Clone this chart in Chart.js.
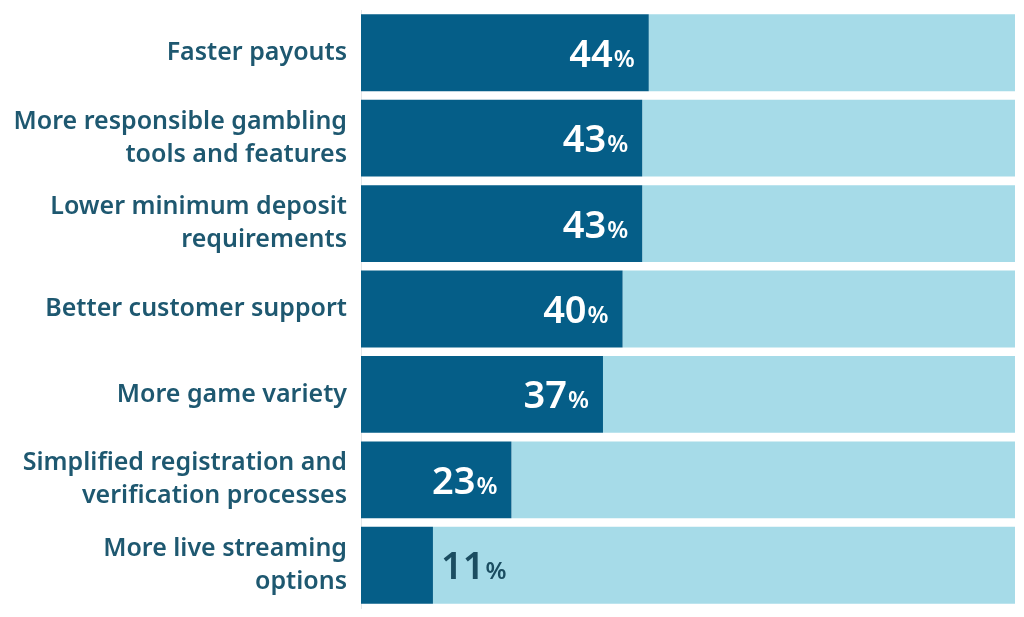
<!DOCTYPE html>
<html>
<head>
<meta charset="utf-8">
<script src="https://cdn.jsdelivr.net/npm/chart.js@4"></script>
<style>
  html, body { margin: 0; padding: 0; background: #fff; }
</style>
</head>
<body>
<canvas id="chart" width="1024" height="617"></canvas>
<script>
const categories = [
  ['Faster payouts'],
  ['More responsible gambling', 'tools and features'],
  ['Lower minimum deposit', 'requirements'],
  ['Better customer support'],
  ['More game variety'],
  ['Simplified registration and', 'verification processes'],
  ['More live streaming', 'options']
];
const values = [44, 43, 43, 40, 37, 23, 11];
const rest = values.map(v => 100 - v);

const darkBlue = '#055e88';
const lightBlue = '#a6dbe8';
const labelColor = '#1e5870';
const fontFamily = "'Noto Sans', 'Open Sans', sans-serif";

// value labels: big number + smaller %
const valueLabels = {
  id: 'valueLabels',
  afterDatasetsDraw(chart) {
    const ctx = chart.ctx;
    const meta = chart.getDatasetMeta(0);
    meta.data.forEach((bar, i) => {
      const num = String(values[i]);
      ctx.save();
      ctx.textBaseline = 'alphabetic';
      ctx.font = `600 38px ${fontFamily}`;
      const wNum = ctx.measureText(num).width;
      ctx.font = `600 24px ${fontFamily}`;
      const wPct = ctx.measureText('%').width;
      const total = wNum + wPct + 1;
      const left = bar.base;
      const right = bar.x;
      let x, color;
      if (right - left > total + 24) {
        x = right - 14 - total;
        color = '#ffffff';
      } else {
        x = right + 8;
        color = '#1b4d61';
      }
      const y = bar.y + 14;
      ctx.fillStyle = color;
      ctx.font = `600 38px ${fontFamily}`;
      ctx.fillText(num, x, y);
      ctx.font = `600 24px ${fontFamily}`;
      ctx.fillText('%', x + wNum + 1, y);
      ctx.restore();
    });
  }
};

new Chart(document.getElementById('chart'), {
  type: 'bar',
  data: {
    labels: categories,
    datasets: [
      { data: values, backgroundColor: darkBlue, borderWidth: 0, barPercentage: 0.9, categoryPercentage: 1 },
      { data: rest, backgroundColor: lightBlue, borderWidth: 0, barPercentage: 0.9, categoryPercentage: 1 }
    ]
  },
  options: {
    indexAxis: 'y',
    responsive: false,
    animation: false,
    layout: { padding: { top: 10, bottom: 9, right: 9, left: 0 } },
    plugins: { legend: { display: false }, tooltip: { enabled: false } },
    scales: {
      x: { stacked: true, min: 0, max: 100, display: false },
      y: {
        stacked: true,
        grid: { display: false, drawTicks: false },
        border: { display: true, color: '#e3e6e8', width: 1 },
        afterFit(scale) {
          scale.width = 361;
          scale.paddingTop = 0;
          scale.paddingBottom = 0;
        },
        ticks: {
          padding: 14,
          color: labelColor,
          font: { family: fontFamily, size: 25, weight: '600', lineHeight: 1.32 }
        }
      }
    }
  },
  plugins: [valueLabels]
});
</script>
</body>
</html>
